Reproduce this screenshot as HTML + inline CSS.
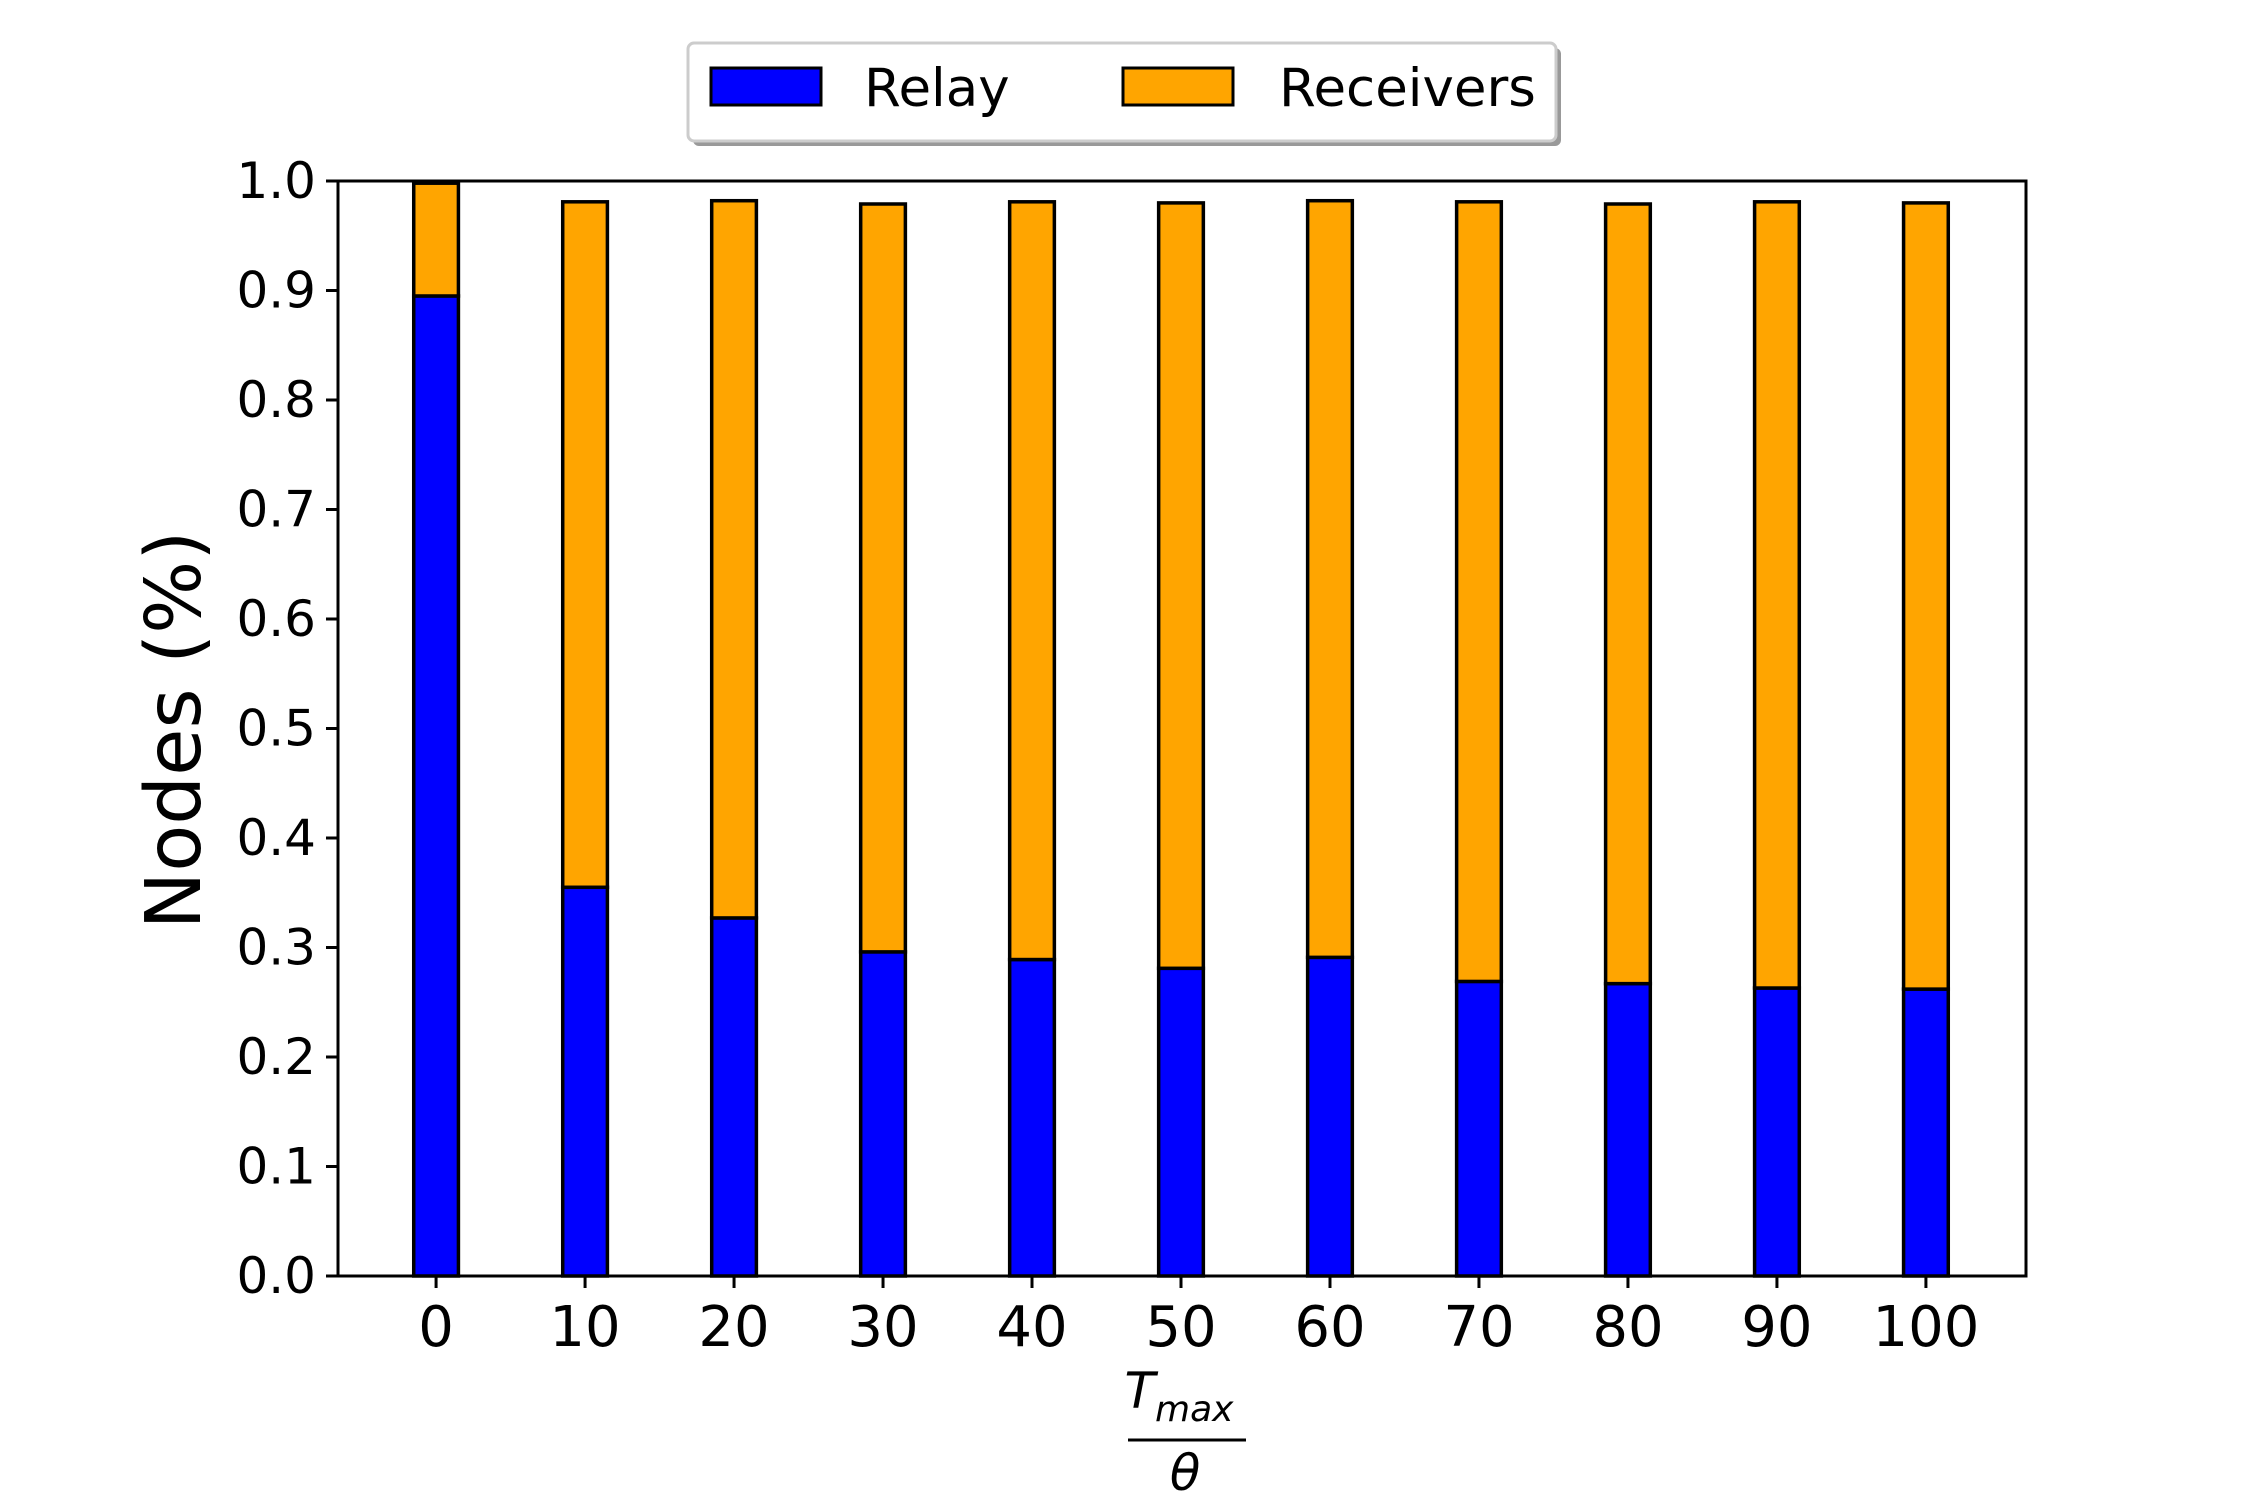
<!DOCTYPE html>
<html><head><meta charset="utf-8"><style>
html,body{margin:0;padding:0;background:#fff;}
svg{display:block;font-family:"DejaVu Sans","Liberation Sans",sans-serif;}
</style></head><body>
<svg id="chart" width="2250" height="1500" viewBox="0 0 2250 1500">
<g id="bars"></g>
<g id="axes"></g>
<g>
<rect x="693" y="48" width="868" height="98" rx="6" fill="#999"/>
<rect x="688" y="43" width="868" height="98" rx="6" fill="#fff" stroke="#ccc" stroke-width="3"/>
<rect x="711" y="68" width="110" height="37" fill="#0000ff" stroke="#000" stroke-width="3"/>
<text x="864" y="106" font-size="53">Relay</text>
<rect x="1123" y="68" width="110" height="37" fill="#ffa500" stroke="#000" stroke-width="3"/>
<text x="1279" y="106" font-size="53">Receivers</text>
</g>
<text transform="translate(200,730) rotate(-90)" text-anchor="middle" font-size="77">Nodes (%)</text>
<g>
<text x="1179" y="1408" text-anchor="middle" font-size="50" font-style="italic">T<tspan font-size="36" dy="13">max</tspan></text>
<line x1="1128" y1="1440" x2="1246" y2="1440" stroke="#000" stroke-width="3"/>
<text x="1185" y="1490" text-anchor="middle" font-size="50" font-style="italic">θ</text>
</g>
</svg>
<script>
const categories = ["0","10","20","30","40","50","60","70","80","90","100"];
const relay = [0.895,0.355,0.327,0.296,0.289,0.281,0.291,0.269,0.267,0.263,0.262];
const receivers = [0.103,0.626,0.655,0.683,0.692,0.699,0.691,0.712,0.712,0.718,0.718];
const yTicks = [0.0,0.1,0.2,0.3,0.4,0.5,0.6,0.7,0.8,0.9,1.0];

const NS = "http://www.w3.org/2000/svg";
const L=338, R=2026, T=181, B=1276;
const xmin=-0.665, xmax=categories.length-1+0.665;
function xs(i){ return L + (i - xmin)/(xmax - xmin)*(R-L); }
function ys(v){ return B - v*(B-T); }
const bw = 0.3*(R-L)/(xmax-xmin);
function mk(tag, attrs, parent){ const e=document.createElementNS(NS,tag); for(const k in attrs) e.setAttribute(k,attrs[k]); parent.appendChild(e); return e; }
const bars=document.getElementById('bars'), axes=document.getElementById('axes');
categories.forEach((c,i)=>{
  const x=xs(i)-bw/2-1;
  const r=mk('rect',{x:x,y:ys(relay[i]),width:bw,height:ys(0)-ys(relay[i]),fill:'#0000ff',stroke:'#000','stroke-width':3.5},bars);
  
  
  const top=relay[i]+receivers[i];
  const q=mk('rect',{x:x,y:ys(top),width:bw,height:ys(relay[i])-ys(top),fill:'#ffa500',stroke:'#000','stroke-width':3.5},bars);
  
  
  const tk=mk('line',{x1:xs(i)-1,x2:xs(i)-1,y1:B,y2:B+12,stroke:'#000','stroke-width':3},axes);
  
  
  const t=mk('text',{x:xs(i)-1,y:B+70,'text-anchor':'middle','font-size':56},axes);
  t.textContent=c;
  
  
});
yTicks.forEach(v=>{
  const tk=mk('line',{x1:L-12,x2:L,y1:ys(v),y2:ys(v),stroke:'#000','stroke-width':3},axes);
  
  
  const t=mk('text',{x:L-22,y:ys(v)+17,'text-anchor':'end','font-size':50},axes);
  t.textContent=v.toFixed(1);
  
  
});
const frame=mk('rect',{x:L,y:T,width:R-L,height:B-T,fill:'none',stroke:'#000','stroke-width':3},axes);


</script>
</body></html>
